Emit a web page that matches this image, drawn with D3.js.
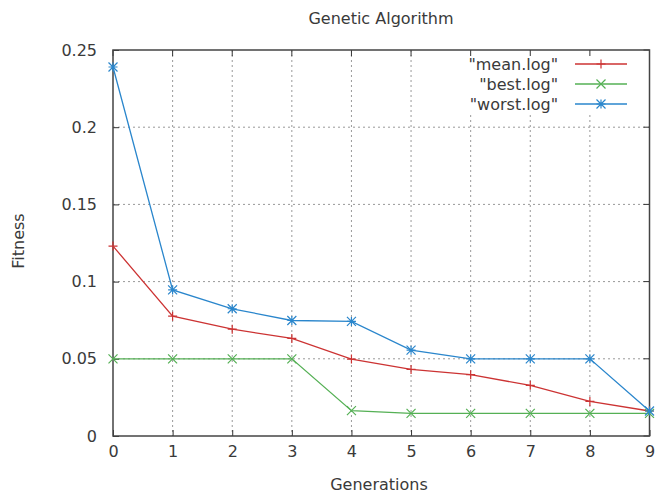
<!DOCTYPE html>
<html>
<head>
<meta charset="utf-8">
<script src="https://cdn.jsdelivr.net/npm/d3@7"></script>
<style>
  body { margin: 0; background: #fff; }
  text { font-family: "DejaVu Sans", sans-serif; fill: #3a3a3a; }
</style>
</head>
<body>
<div id="chart"></div>
<script>
const generations = [0, 1, 2, 3, 4, 5, 6, 7, 8, 9];
const meanValues = [0.123, 0.0776, 0.0692, 0.0632, 0.0498, 0.0431, 0.0397, 0.0328, 0.0224, 0.0162];
const bestValues = [0.05, 0.05, 0.05, 0.05, 0.0164, 0.0147, 0.0147, 0.0147, 0.0147, 0.0147];
const worstValues = [0.239, 0.0946, 0.0824, 0.0748, 0.0742, 0.0556, 0.05, 0.05, 0.05, 0.0162];
const yTicks = [0, 0.05, 0.1, 0.15, 0.2, 0.25];
const yTickLabels = ["0", "0.05", "0.1", "0.15", "0.2", "0.25"];

const series = [
    { name: '"mean.log"', values: meanValues, color: "#cc3333", marker: "plus" },
    { name: '"best.log"', values: bestValues, color: "#55b055", marker: "cross" },
    { name: '"worst.log"', values: worstValues, color: "#2a86cc", marker: "star" }
];

const width = 656, height = 495;
const margin = { top: 50, right: 5, bottom: 59, left: 113 };
const innerW = width - margin.left - margin.right;
const innerH = height - margin.top - margin.bottom;

const svg = d3.select("#chart").append("svg")
    .attr("width", width)
    .attr("height", height);

const g = svg.append("g")
    .attr("transform", `translate(${margin.left},${margin.top})`);

const x = d3.scaleLinear().domain([0, 9]).range([0, innerW - 1.5]);
const y = d3.scaleLinear().domain([0, 0.25]).range([innerH, 0]);

// grid
g.append("g").selectAll("line").data(generations.slice(1, -1)).join("line")
    .attr("x1", d => x(d)).attr("x2", d => x(d))
    .attr("y1", 0).attr("y2", innerH)
    .attr("stroke", "#999").attr("stroke-dasharray", "2,3");
g.append("g").selectAll("line").data(yTicks.slice(1, -1)).join("line")
    .attr("x1", 0).attr("x2", x(9))
    .attr("y1", d => y(d)).attr("y2", d => y(d))
    .attr("stroke", "#999").attr("stroke-dasharray", "2,3");

// legend background hides grid behind key
g.append("rect")
    .attr("x", x(5.95)).attr("y", 1)
    .attr("width", x(9) - x(5.95) - 1).attr("height", 64)
    .attr("fill", "#fff");

// mirrored ticks on top and right
g.append("g").selectAll("line").data(generations).join("line")
    .attr("x1", d => x(d)).attr("x2", d => x(d))
    .attr("y1", 0).attr("y2", 6)
    .attr("stroke", "#333");
g.append("g").selectAll("line").data(yTicks).join("line")
    .attr("x1", x(9)).attr("x2", x(9) - 6)
    .attr("y1", d => y(d)).attr("y2", d => y(d))
    .attr("stroke", "#333");

// axes
const xAxis = g.append("g")
    .attr("transform", `translate(0,${innerH})`)
    .call(d3.axisBottom(x).tickValues(generations).tickFormat(d3.format("d")).tickSizeInner(-6).tickSizeOuter(0).tickPadding(10));
const yAxis = g.append("g")
    .call(d3.axisLeft(y).tickValues(yTicks).tickFormat((d, i) => yTickLabels[i]).tickSizeInner(-6).tickSizeOuter(0).tickPadding(16));
[xAxis, yAxis].forEach(a => {
    a.select(".domain").remove();
    a.selectAll(".tick line").attr("stroke", "#333");
    a.selectAll(".tick text").attr("font-size", 16).attr("fill", "#3a3a3a")
        .attr("font-family", '"DejaVu Sans", sans-serif');
});

// frame
g.append("rect")
    .attr("x", 0).attr("y", 0)
    .attr("width", x(9)).attr("height", innerH)
    .attr("fill", "none").attr("stroke", "#444").attr("stroke-width", 1.5);

function drawMarker(sel, type, color) {
    const s = 4.5;
    let d;
    if (type === "plus") d = `M${-s},0H${s}M0,${-s}V${s}`;
    else if (type === "cross") d = `M${-s},${-s}L${s},${s}M${-s},${s}L${s},${-s}`;
    else d = `M${-s},0H${s}M0,${-s}V${s}M${-s},${-s}L${s},${s}M${-s},${s}L${s},${-s}`;
    sel.append("path").attr("d", d).attr("stroke", color).attr("stroke-width", 1.2).attr("fill", "none");
}

const line = d3.line()
    .x((d, i) => x(generations[i]))
    .y(d => y(d));

series.forEach(s => {
    g.append("path")
        .datum(s.values)
        .attr("fill", "none")
        .attr("stroke", s.color)
        .attr("stroke-width", 1.3)
        .attr("d", line);
    s.values.forEach((v, i) => {
        const m = g.append("g").attr("transform", `translate(${x(generations[i])},${y(v)})`);
        drawMarker(m, s.marker, s.color);
    });
});

// legend
const legend = g.append("g");
series.forEach((s, i) => {
    const ly = 14 + i * 20;
    legend.append("text")
        .attr("x", 445).attr("y", ly)
        .attr("dy", "0.35em")
        .attr("text-anchor", "end")
        .attr("font-size", 16)
        .text(s.name);
    legend.append("line")
        .attr("x1", 462).attr("x2", 514)
        .attr("y1", ly).attr("y2", ly)
        .attr("stroke", s.color).attr("stroke-width", 1.3);
    const m = legend.append("g").attr("transform", `translate(488,${ly})`);
    drawMarker(m, s.marker, s.color);
});

// titles
svg.append("text")
    .attr("x", 381).attr("y", 18)
    .attr("dy", "0.35em")
    .attr("text-anchor", "middle")
    .attr("font-size", 16)
    .text("Genetic Algorithm");

svg.append("text")
    .attr("x", 379).attr("y", 484)
    .attr("dy", "0.35em")
    .attr("text-anchor", "middle")
    .attr("font-size", 16)
    .text("Generations");

svg.append("text")
    .attr("transform", "translate(18,241) rotate(-90)")
    .attr("dy", "0.35em")
    .attr("text-anchor", "middle")
    .attr("font-size", 16)
    .text("Fitness");
</script>
</body>
</html>
